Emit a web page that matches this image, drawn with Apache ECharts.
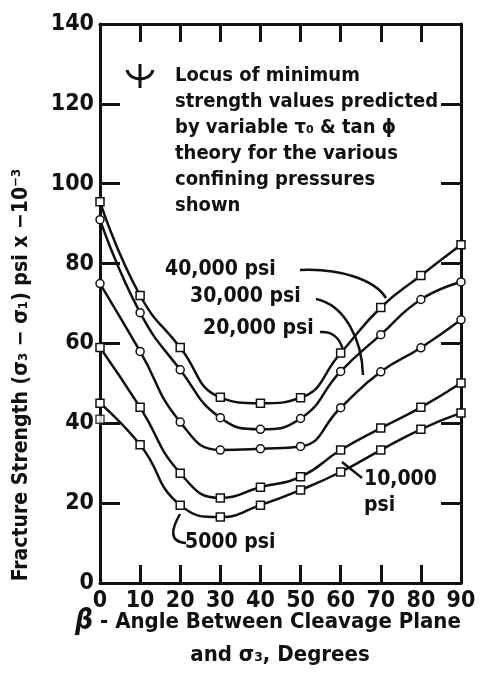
<!DOCTYPE html>
<html>
<head>
<meta charset="utf-8">
<script src="https://cdn.jsdelivr.net/npm/echarts@6/dist/echarts.min.js"></script>
<style>
  html, body { margin: 0; padding: 0; background: #fff; }
  #main { width: 480px; height: 679px; }
</style>
</head>
<body>
<div id="main"></div>
<script>
// angle beta, degrees
var angles = [0, 10, 20, 30, 40, 50, 60, 70, 80, 90];
// fracture strength, psi x 10^-3, one list per confining pressure
var psi40000 = [95.5, 72, 59, 46.5, 45, 46.4, 57.6, 69, 77, 84.7];
var psi30000 = [91, 67.7, 53.4, 41.4, 38.5, 41.2, 53, 62.2, 71, 75.4];
var psi20000 = [75, 58, 40.3, 33.3, 33.6, 34.2, 43.9, 52.9, 58.9, 65.9];
var psi10000 = [59, 44, 27.5, 21.3, 24, 26.6, 33.3, 38.8, 44, 50.1];
var psi5000 = [45, 34.6, 19.5, 16.5, 19.5, 23.3, 27.8, 33.3, 38.5, 42.6];
// stray marker at 0 deg
var extraPoints = [[0, 41]];

function pairs(vals) {
  return angles.map(function (a, i) { return [a, vals[i]]; });
}

var font = 'DejaVu Sans Condensed';
var lineStyle = { color: '#111', width: 2.5 };

function curve(name, vals, symbol) {
  return {
    name: name,
    type: 'line',
    smooth: 0.5,
    data: pairs(vals),
    symbol: symbol,
    symbolSize: 8,
    lineStyle: lineStyle,
    itemStyle: { color: '#fff', borderColor: '#111', borderWidth: 1.5 },
    z: 3
  };
}

var axisLine = { show: true, onZero: false, lineStyle: { color: '#111', width: 3 } };

var myChart = echarts.init(document.getElementById('main'));
var option = {
  backgroundColor: '#fff',
  animation: false,
  grid: { left: 100, right: 19, top: 24, bottom: 96, outerBoundsMode: 'none', containLabel: false },
  xAxis: [{
    type: 'value', min: 0, max: 90, interval: 10,
    axisLine: axisLine,
    axisTick: { inside: true, length: 18, lineStyle: { color: '#111', width: 3 } },
    axisLabel: { color: '#111', fontFamily: font, fontWeight: 'bold', fontSize: 23, margin: 7 },
    splitLine: { show: false }
  }, {
    type: 'value', min: 0, max: 90, interval: 10, position: 'top',
    axisLine: axisLine,
    axisTick: { inside: true, length: 18, lineStyle: { color: '#111', width: 3 } },
    axisLabel: { show: false },
    splitLine: { show: false }
  }],
  yAxis: [{
    type: 'value', min: 0, max: 140, interval: 20,
    axisLine: axisLine,
    axisTick: { inside: true, length: 20, lineStyle: { color: '#111', width: 3 } },
    axisLabel: { color: '#111', fontFamily: font, fontWeight: 'bold', fontSize: 23, margin: 6 },
    splitLine: { show: false }
  }, {
    type: 'value', min: 0, max: 140, interval: 20, position: 'right',
    axisLine: axisLine,
    axisTick: { inside: true, length: 20, lineStyle: { color: '#111', width: 3 } },
    axisLabel: { show: false },
    splitLine: { show: false }
  }],
  series: [
    curve('40,000 psi', psi40000, 'rect'),
    curve('30,000 psi', psi30000, 'circle'),
    curve('20,000 psi', psi20000, 'circle'),
    curve('10,000 psi', psi10000, 'rect'),
    curve('5000 psi', psi5000, 'rect'),
    {
      name: 'extra', type: 'scatter', data: extraPoints, symbol: 'rect', symbolSize: 8,
      itemStyle: { color: '#fff', borderColor: '#111', borderWidth: 1.5 }, z: 4
    }
  ],
  graphic: [
    // x axis title, two lines
    {
      type: 'text', x: 268, y: 622,
      style: {
        text: '{b|β} - Angle Between Cleavage Plane',
        fontFamily: font, fontWeight: 'bold', fontSize: 22, fill: '#111',
        align: 'center', verticalAlign: 'middle',
        rich: { b: { fontSize: 28, fontStyle: 'italic', fontWeight: 'bold', fontFamily: font, fill: '#111' } }
      }
    },
    {
      type: 'text', x: 280, y: 655,
      style: {
        text: 'and σ₃, Degrees',
        fontFamily: font, fontWeight: 'bold', fontSize: 22, fill: '#111',
        align: 'center', verticalAlign: 'middle'
      }
    },
    // y axis title
    {
      type: 'text', x: 22, y: 375, rotation: Math.PI / 2,
      style: {
        text: 'Fracture Strength (σ₃ − σ₁) psi x −10⁻³',
        fontFamily: font, fontWeight: 'bold', fontSize: 21, fill: '#111',
        align: 'center', verticalAlign: 'middle'
      }
    },
    // locus symbol
    {
      type: 'bezierCurve',
      shape: { x1: 127, y1: 70, x2: 153, y2: 70, cpx1: 130, cpy1: 82, cpx2: 150, cpy2: 82 },
      style: { stroke: '#111', lineWidth: 3, fill: null }
    },
    {
      type: 'line', shape: { x1: 140, y1: 64, x2: 140, y2: 88 },
      style: { stroke: '#111', lineWidth: 3 }
    },
    {
      type: 'text', x: 175, y: 63,
      style: {
        text: 'Locus of minimum\nstrength values predicted\nby variable τ₀ & tan ϕ\ntheory for the various\nconfining pressures\nshown',
        fontFamily: font, fontWeight: 'bold', fontSize: 20, lineHeight: 26, fill: '#111'
      }
    },
    // series labels
    { type: 'text', x: 165, y: 259, style: { text: '40,000 psi', fontFamily: font, fontWeight: 'bold', fontSize: 21, fill: '#111' } },
    { type: 'text', x: 190, y: 286, style: { text: '30,000 psi', fontFamily: font, fontWeight: 'bold', fontSize: 21, fill: '#111' } },
    { type: 'text', x: 203, y: 318, style: { text: '20,000 psi', fontFamily: font, fontWeight: 'bold', fontSize: 21, fill: '#111' } },
    { type: 'text', x: 364, y: 467, style: { text: '10,000\npsi', fontFamily: font, fontWeight: 'bold', fontSize: 21, lineHeight: 26, fill: '#111' } },
    { type: 'text', x: 185, y: 532, style: { text: '5000 psi', fontFamily: font, fontWeight: 'bold', fontSize: 21, fill: '#111' } },
    // leader lines
    {
      type: 'bezierCurve',
      shape: { x1: 300, y1: 270, x2: 386, y2: 298, cpx1: 340, cpy1: 268, cpx2: 375, cpy2: 280 },
      style: { stroke: '#111', lineWidth: 2.5, fill: null }
    },
    {
      type: 'bezierCurve',
      shape: { x1: 316, y1: 299, x2: 363, y2: 375, cpx1: 345, cpy1: 305, cpx2: 362, cpy2: 340 },
      style: { stroke: '#111', lineWidth: 2.5, fill: null }
    },
    {
      type: 'bezierCurve',
      shape: { x1: 320, y1: 332, x2: 343, y2: 350, cpx1: 332, cpy1: 331, cpx2: 340, cpy2: 338 },
      style: { stroke: '#111', lineWidth: 2.5, fill: null }
    },
    {
      type: 'line', shape: { x1: 362, y1: 478, x2: 342, y2: 462 },
      style: { stroke: '#111', lineWidth: 2.5 }
    },
    {
      type: 'bezierCurve',
      shape: { x1: 180, y1: 514, x2: 186, y2: 543, cpx1: 172, cpy1: 528, cpx2: 168, cpy2: 542 },
      style: { stroke: '#111', lineWidth: 2.5, fill: null }
    }
  ]
};
myChart.setOption(option);
</script>
</body>
</html>
